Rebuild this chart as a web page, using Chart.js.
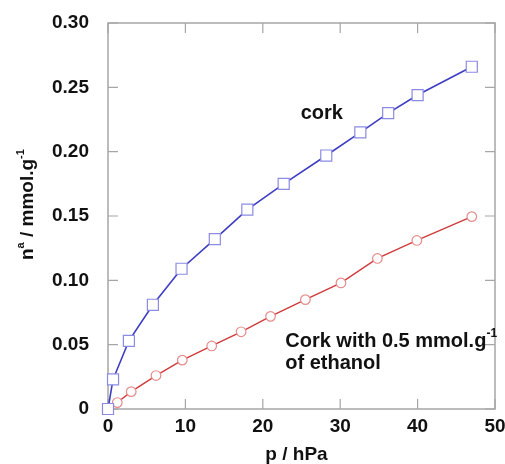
<!DOCTYPE html>
<html>
<head>
<meta charset="utf-8">
<script src="https://cdn.jsdelivr.net/npm/chart.js@4.4.0/dist/chart.umd.min.js"></script>
<style>
  html, body { margin: 0; padding: 0; background: #fff; }
  canvas { display: block; }
</style>
</head>
<body>
<canvas id="chart" width="505" height="464"></canvas>
<script>
// Adsorption data (p in hPa, n in mmol/g)
const pressureCork = [0, 0.65, 2.7, 5.8, 9.5, 13.8, 18.0, 22.7, 28.2, 32.6, 36.2, 40.0, 47.0];
const uptakeCork = [0, 0.023, 0.053, 0.081, 0.109, 0.132, 0.155, 0.175, 0.197, 0.215, 0.230, 0.244, 0.266];

const pressureEthanol = [1.2, 3.0, 6.2, 9.6, 13.4, 17.2, 21.0, 25.5, 30.1, 34.8, 39.9, 47.0];
const uptakeEthanol = [0.005, 0.0135, 0.026, 0.038, 0.049, 0.060, 0.072, 0.085, 0.098, 0.117, 0.131, 0.1495];

const xTickValues = [0, 10, 20, 30, 40, 50];
const yTickValues = [0, 0.05, 0.10, 0.15, 0.20, 0.25, 0.30];

const FONT = '"Liberation Sans", Arial, Helvetica, sans-serif';
const FRAME = '#a6a6a6';

function toPoints(xs, ys) {
    return xs.map(function(x, i) { return { x: x, y: ys[i] }; });
}

// draw a run of text pieces, some of them raised as superscripts
function drawRich(ctx, parts, x, y, size) {
    let cx = x;
    parts.forEach(function(p) {
        if (p.sup) {
            ctx.font = 'bold ' + Math.round(size * 0.6) + 'px ' + FONT;
            ctx.fillText(p.text, cx, y - size * 0.5);
        } else {
            ctx.font = 'bold ' + size + 'px ' + FONT;
            ctx.fillText(p.text, cx, y);
        }
        cx += ctx.measureText(p.text).width;
    });
}

// frame with inward ticks on all four sides
const framePlugin = {
    id: 'frame',
    beforeDatasetsDraw(chart) {
        const ctx = chart.ctx;
        const a = chart.chartArea;
        const xs = chart.scales.x, ys = chart.scales.y;
        ctx.save();
        ctx.strokeStyle = FRAME;
        ctx.lineWidth = 1.5;
        ctx.strokeRect(a.left, a.top, a.right - a.left, a.bottom - a.top);
        ctx.lineWidth = 1.2;
        ctx.beginPath();
        xs.ticks.forEach(function(t) {
            const px = xs.getPixelForValue(t.value);
            ctx.moveTo(px, a.bottom); ctx.lineTo(px, a.bottom - 10);
            ctx.moveTo(px, a.top); ctx.lineTo(px, a.top + 10);
        });
        ys.ticks.forEach(function(t) {
            const py = ys.getPixelForValue(t.value);
            ctx.moveTo(a.left, py); ctx.lineTo(a.left + 10, py);
            ctx.moveTo(a.right, py); ctx.lineTo(a.right - 10, py);
        });
        ctx.stroke();
        ctx.restore();
    },
    afterDraw(chart) {
        const ctx = chart.ctx;
        const xs = chart.scales.x, ys = chart.scales.y;
        ctx.save();
        ctx.fillStyle = '#111';
        ctx.textBaseline = 'alphabetic';
        ctx.textAlign = 'left';

        // series labels
        drawRich(ctx, [{ text: 'cork' }], xs.getPixelForValue(24.9), ys.getPixelForValue(0.2254), 20);
        const lx = xs.getPixelForValue(22.9);
        drawRich(ctx, [{ text: 'Cork with 0.5 mmol.g' }, { text: '-1', sup: true }], lx, ys.getPixelForValue(0.0482), 20);
        drawRich(ctx, [{ text: 'of ethanol' }], lx, ys.getPixelForValue(0.031), 20);

        // x axis title
        ctx.font = 'bold 19px ' + FONT;
        ctx.textAlign = 'center';
        ctx.fillText('p / hPa', (chart.chartArea.left + chart.chartArea.right) / 2 - 5, 460);

        // y axis title, rotated
        ctx.textAlign = 'left';
        ctx.translate(33, 260);
        ctx.rotate(-Math.PI / 2);
        drawRich(ctx, [{ text: 'n' }, { text: 'a', sup: true }, { text: ' / mmol.g' }, { text: '-1', sup: true }], 0, 0, 19);
        ctx.restore();
    }
};

const tickFont = { family: FONT, size: 19, weight: 'bold' };

new Chart(document.getElementById('chart'), {
    type: 'scatter',
    data: {
        datasets: [
            {
                label: 'cork',
                data: toPoints(pressureCork, uptakeCork),
                showLine: true,
                borderColor: '#3d3dc4',
                borderWidth: 1.6,
                pointStyle: 'rect',
                pointRadius: 7.8,
                pointBackgroundColor: '#ffffff',
                pointBorderColor: '#8b8be3',
                pointBorderWidth: 1.2,
                clip: false
            },
            {
                label: 'Cork with 0.5 mmol/g of ethanol',
                data: toPoints(pressureEthanol, uptakeEthanol),
                showLine: true,
                borderColor: '#d03a3a',
                borderWidth: 1.4,
                pointStyle: 'circle',
                pointRadius: 4.8,
                pointBackgroundColor: '#ffffff',
                pointBorderColor: '#e58c8c',
                pointBorderWidth: 1.2,
                clip: false
            }
        ]
    },
    options: {
        responsive: false,
        animation: false,
        layout: { padding: { top: 23, right: 10, left: 0, bottom: 0 } },
        plugins: {
            legend: { display: false },
            tooltip: { enabled: false }
        },
        scales: {
            x: {
                type: 'linear',
                min: 0,
                max: 50,
                grid: { display: false },
                border: { display: false },
                afterBuildTicks: function(scale) {
                    scale.ticks = xTickValues.map(function(v) { return { value: v }; });
                },
                afterFit: function(scale) {
                    scale.height = 55;
                    scale.paddingLeft = 0;
                    scale.paddingRight = 0;
                },
                ticks: {
                    font: tickFont,
                    color: '#111',
                    padding: -2,
                    maxRotation: 0,
                    callback: function(v) { return String(v); }
                }
            },
            y: {
                type: 'linear',
                min: 0,
                max: 0.30,
                grid: { display: false },
                border: { display: false },
                afterBuildTicks: function(scale) {
                    scale.ticks = yTickValues.map(function(v) { return { value: v }; });
                },
                afterFit: function(scale) {
                    scale.width = 108;
                },
                ticks: {
                    font: tickFont,
                    color: '#111',
                    padding: 11,
                    callback: function(v) { return v === 0 ? '0' : v.toFixed(2); }
                }
            }
        }
    },
    plugins: [framePlugin]
});
</script>
</body>
</html>
